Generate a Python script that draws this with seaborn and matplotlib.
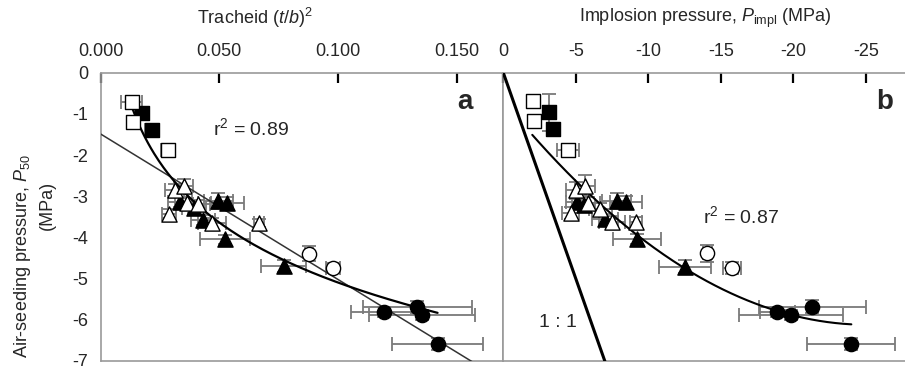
import numpy as np
import pandas as pd
import matplotlib
matplotlib.use("Agg")
import matplotlib.pyplot as plt
import seaborn as sns

sns.set_style("white")
plt.rcParams['font.family'] = ['Liberation Sans', 'DejaVu Sans']
plt.rcParams['mathtext.fontset'] = 'custom'
plt.rcParams['mathtext.rm'] = 'Liberation Sans'
plt.rcParams['mathtext.it'] = 'Liberation Sans:italic'
plt.rcParams['mathtext.bf'] = 'Liberation Sans:bold'
plt.rcParams['axes.unicode_minus'] = False

# ---------------- data: panel a (tracheid (t/b)^2 vs P50) ----------------
a_open_sq_x = [0.0131, 0.0135, 0.0285]
a_open_sq_y = [-0.70, -1.19, -1.87]
a_open_sq_xe = [0.0045, 0.0020, 0.0030]
a_open_sq_ye = [0.08, 0.08, 0.10]

a_fill_sq_x = [0.0175, 0.0215]
a_fill_sq_y = [-0.97, -1.39]
a_fill_sq_xe = [0.0030, 0.0030]
a_fill_sq_ye = [0.10, 0.10]

a_open_tri_x = [0.0313, 0.0351, 0.0289, 0.0362, 0.0411, 0.0468, 0.0667]
a_open_tri_y = [-2.86, -2.74, -3.42, -3.16, -3.20, -3.65, -3.65]
a_open_tri_xe = [0.0040, 0.0040, 0.0030, 0.0050, 0.0050, 0.0060, 0.0020]
a_open_tri_ye = [0.15, 0.15, 0.12, 0.12, 0.12, 0.12, 0.10]

a_fill_tri_x = [0.0334, 0.0393, 0.0432, 0.0496, 0.0534, 0.0524, 0.0772]
a_fill_tri_y = [-3.15, -3.28, -3.57, -3.12, -3.16, -4.05, -4.70]
a_fill_tri_xe = [0.0050, 0.0050, 0.0050, 0.0060, 0.0070, 0.0104, 0.0095]
a_fill_tri_ye = [0.12, 0.12, 0.12, 0.20, 0.15, 0.12, 0.15]

a_open_circ_x = [0.0878, 0.0980]
a_open_circ_y = [-4.40, -4.75]
a_open_circ_xe = [0.0015, 0.0030]
a_open_circ_ye = [0.18, 0.12]

a_fill_circ_x = [0.1194, 0.1334, 0.1354, 0.1420]
a_fill_circ_y = [-5.80, -5.69, -5.89, -6.59]
a_fill_circ_xe = [0.0140, 0.0230, 0.0225, 0.0190]
a_fill_circ_ye = [0.12, 0.15, 0.12, 0.15]

# ---------------- data: panel b (implosion pressure vs P50) ----------------
b_open_sq_x = [-2.07, -2.14, -4.48]
b_open_sq_y = [-0.69, -1.17, -1.87]
b_open_sq_xe = [0.30, 0.30, 0.75]
b_open_sq_ye = [0.05, 0.15, 0.08]

b_fill_sq_x = [-3.15, -3.40]
b_fill_sq_y = [-0.96, -1.37]
b_fill_sq_xe = [0.20, 0.30]
b_fill_sq_ye = [0.45, 0.15]

b_open_tri_x = [-5.01, -5.63, -4.65, -5.86, -6.70, -7.48, -9.15]
b_open_tri_y = [-2.86, -2.74, -3.41, -3.16, -3.32, -3.63, -3.62]
b_open_tri_xe = [0.70, 0.70, 0.60, 0.80, 0.80, 0.90, 0.40]
b_open_tri_ye = [0.20, 0.25, 0.15, 0.15, 0.15, 0.15, 0.12]

b_fill_tri_x = [-5.10, -5.55, -7.00, -7.82, -8.46, -9.20, -12.53]
b_fill_tri_y = [-3.13, -3.22, -3.55, -3.12, -3.15, -4.03, -4.71]
b_fill_tri_xe = [0.80, 0.80, 0.90, 1.00, 1.10, 1.65, 1.80]
b_fill_tri_ye = [0.12, 0.12, 0.12, 0.20, 0.15, 0.12, 0.15]

b_open_circ_x = [-14.07, -15.77]
b_open_circ_y = [-4.39, -4.75]
b_open_circ_xe = [0.30, 0.60]
b_open_circ_ye = [0.20, 0.15]

b_fill_circ_x = [-18.90, -21.30, -19.84, -23.96]
b_fill_circ_y = [-5.80, -5.68, -5.88, -6.59]
b_fill_circ_xe = [1.20, 3.70, 3.60, 3.05]
b_fill_circ_ye = [0.12, 0.15, 0.12, 0.15]

# fitted relationships
a_lin_intercept, a_lin_slope = -1.49, -35.3          # thin straight line
a_log_const, a_log_coef = -9.93, -2.10               # thick curve y = c + k ln x
a_log_xrange = (0.0135, 0.142)
b_quad = (-0.677, -0.4335, 0.00863)                  # y = c0 + c1 u + c2 u^2, u = -x
b_quad_urange = (2.0, 24.0)

a_xticks = [0.0, 0.05, 0.10, 0.15]
a_xticklabels = ['0.000', '0.050', '0.100', '0.150']
b_xticks = [0, -5, -10, -15, -20, -25]
b_xticklabels = ['0', '-5', '-10', '-15', '-20', '-25']
yticks = [0, -1, -2, -3, -4, -5, -6, -7]
yticklabels = ['0', '-1', '-2', '-3', '-4', '-5', '-6', '-7']

# ---------------- figure ----------------
fig = plt.figure(figsize=(9.05, 3.66), dpi=100)
axA = fig.add_axes([0.1113, 0.0137, 0.4448, 0.7877])
axB = fig.add_axes([0.5561, 0.0137, 0.4439, 0.7877])

GREY = '#999999'
FS = 13

def groups(prefix):
    g = globals()
    out = []
    for name in ['open_sq', 'fill_sq', 'open_tri', 'fill_tri', 'open_circ', 'fill_circ']:
        out.append((g[f'{prefix}_{name}_x'], g[f'{prefix}_{name}_y'],
                    g[f'{prefix}_{name}_xe'], g[f'{prefix}_{name}_ye'], name))
    return out

def draw(ax, prefix):
    rows = []
    for x, y, xe, ye, name in groups(prefix):
        ax.errorbar(x, y, xerr=xe, yerr=ye, fmt='none', ecolor='#7a7a7a',
                    elinewidth=1.3, capsize=5, capthick=1.3, zorder=2)
        for xi, yi in zip(x, y):
            rows.append(dict(x=xi, y=yi, group=name))
    df = pd.DataFrame(rows)
    markers = {'open_sq': 's', 'fill_sq': 's', 'open_tri': '^', 'fill_tri': '^',
               'open_circ': 'o', 'fill_circ': 'o'}
    sizes = {'open_sq': 90, 'fill_sq': 90, 'open_tri': 120, 'fill_tri': 120,
             'open_circ': 105, 'fill_circ': 105}
    for name, sub in df.groupby('group'):
        fc = 'white' if name.startswith('open') else 'black'
        sns.scatterplot(data=sub, x='x', y='y', ax=ax, marker=markers[name],
                        s=sizes[name], facecolor=fc, edgecolor='black',
                        linewidth=1.0, zorder=4, legend=False)

draw(axA, 'a')
draw(axB, 'b')

# fit lines panel a
xl = np.array([0.0, 0.17])
sns.lineplot(x=xl, y=a_lin_intercept + a_lin_slope * xl, ax=axA, color='#333333',
             linewidth=1.1, zorder=3)
xc = np.linspace(a_log_xrange[0], a_log_xrange[1], 200)
sns.lineplot(x=xc, y=a_log_const + a_log_coef * np.log(xc), ax=axA, color='black',
             linewidth=1.6, zorder=3)

# panel b: 1:1 line and fit
x11 = np.array([0.0, -7.5])
sns.lineplot(x=x11, y=x11, ax=axB, color='black', linewidth=2.2, zorder=3)
u = np.linspace(b_quad_urange[0], b_quad_urange[1], 200)
sns.lineplot(x=-u, y=b_quad[0] + b_quad[1] * u + b_quad[2] * u ** 2, ax=axB,
             color='black', linewidth=1.5, zorder=3)

for ax in (axA, axB):
    ax.set_ylim(-7, 0)
    ax.set_yticks(yticks)
    ax.xaxis.tick_top()
    ax.xaxis.set_label_position('top')
    ax.tick_params(axis='both', direction='in', length=7, width=1.6, color='black',
                   labelsize=FS, pad=6)
    ax.tick_params(axis='x', pad=9)
    for s in ax.spines.values():
        s.set_color(GREY)
        s.set_linewidth(1.2)
    ax.set_xlabel('')
    ax.set_ylabel('')

axA.set_xlim(0, 0.1697)
axA.set_xticks(a_xticks)
axA.set_xticklabels(a_xticklabels)
axA.set_yticklabels(yticklabels)
axA.tick_params(axis='y', pad=9)

axB.set_xlim(0, -27.7)
axB.set_xticks(b_xticks)
axB.set_xticklabels(b_xticklabels)
axB.set_yticklabels([])
axB.spines['right'].set_visible(False)

fig.text(255 / 905, 1 - 18 / 366, r'Tracheid ($\mathit{t/b}$)$^{2}$', fontsize=FS,
         ha='center', va='center')
fig.text(705 / 905, 1 - 18 / 366, r'Implosion pressure, $\mathit{P}_{\mathrm{impl}}$ (MPa)',
         fontsize=FS, ha='center', va='center')

axA.text(0.0473, -1.34, r'r$^{2}$ = 0.89', fontsize=FS + 1, va='center', ha='left')
axB.text(-13.75, -3.49, r'r$^{2}$ = 0.87', fontsize=FS + 1, va='center', ha='left')
axB.text(-3.79, -6.07, '1 : 1', fontsize=FS + 1, va='center', ha='center')
axA.text(0.905, 0.90, 'a', transform=axA.transAxes, fontsize=20, fontweight='bold',
         ha='center', va='center')
axB.text(0.95, 0.90, 'b', transform=axB.transAxes, fontsize=20, fontweight='bold',
         ha='center', va='center')

fig.text(0.025, 0.30, r'Air-seeding pressure, $\mathit{P}_{50}$', rotation=90,
         fontsize=FS, ha='center', va='center')
fig.text(0.052, 0.44, '(MPa)', rotation=90, fontsize=FS, ha='center', va='center')

fig.savefig('out.png', dpi=100)
